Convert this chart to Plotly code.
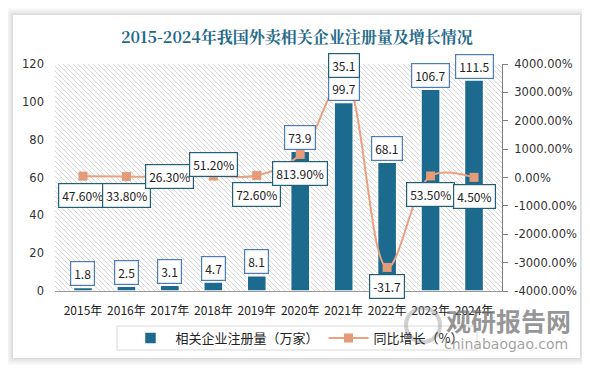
import plotly.graph_objects as go

years = ["2015年", "2016年", "2017年", "2018年", "2019年", "2020年", "2021年", "2022年", "2023年", "2024年"]
registrations = [1.8, 2.5, 3.1, 4.7, 8.1, 73.9, 99.7, 68.1, 106.7, 111.5]
growth_pct = [47.6, 33.8, 26.3, 51.2, 72.6, 813.9, 3510, -3170, 53.5, 4.5]
growth_labels = ["47.60%", "33.80%", "26.30%", "51.20%", "72.60%", "813.90%", "35.1", "-31.7", "53.50%", "4.50%"]
growth_label_pos = ["below", "below", "center", "above", "below", "below", "above", "below", "below", "below"]
left_ticks = [0, 20, 40, 60, 80, 100, 120]
right_ticks = [-4000, -3000, -2000, -1000, 0, 1000, 2000, 3000, 4000]

BAR = "#1C6A8E"
LINE = "#EBA080"
FONT = "Noto Sans CJK SC"

# page body has an 8px margin: build figure 8px smaller, work in reference pixel coords
OFF = 8
FW, FH = 590 - OFF, 370 - OFF
L, R, T, B = 55 - OFF, 88, 64 - OFF, 79
pw, ph = FW - L - R, FH - T - B


def px2paper(x, y):
    return (x - OFF - L) / pw, (FH - B - (y - OFF)) / ph


fig = go.Figure()
fig.add_trace(go.Bar(
    x=years, y=registrations, name="相关企业注册量（万家）",
    marker=dict(color=BAR, line=dict(color="white", width=1.5)),
    width=0.44, yaxis="y",
))
fig.add_trace(go.Scatter(
    x=years, y=growth_pct, name="同比增长（%）", yaxis="y2",
    mode="lines+markers",
    line=dict(color=LINE, width=2, shape="spline", smoothing=1),
    marker=dict(symbol="square", size=9, color="#E59A78"),
))

annotations = []
for x, v in zip(years, registrations):
    annotations.append(dict(
        x=x, y=v, xref="x", yref="y", text=str(v), showarrow=False,
        yshift=14, font=dict(family=FONT, size=12, color="#222"),
        bgcolor="white", bordercolor="#4A7EBB", borderwidth=1.2, borderpad=3,
    ))
shift = {"below": -19, "above": 12, "center": 0}
for x, v, t, p in zip(years, growth_pct, growth_labels, growth_label_pos):
    annotations.append(dict(
        x=x, y=v, xref="x", yref="y2", text=t, showarrow=False,
        yshift=shift[p], font=dict(family=FONT, size=12, color="#222"),
        bgcolor="white", bordercolor="#1F5F7A", borderwidth=1.2, borderpad=3,
    ))


def paper_text(xpx, ypx, text, font):
    xp, yp = px2paper(xpx, ypx)
    annotations.append(dict(x=xp, y=yp, xref="paper", yref="paper", text=text, showarrow=False,
                            xanchor="center", yanchor="middle", font=font))


paper_text(297, 37, "<b>2015-2024年我国外卖相关企业注册量及增长情况</b>",
           dict(family="Noto Serif CJK SC, Noto Sans CJK SC", size=16, color="#1F6A8C"))
paper_text(508, 320, "<b>观研报告网</b>", dict(family=FONT, size=25, color="rgba(115,115,115,0.75)"))
paper_text(506, 344, "chinabaogao.com", dict(family="DejaVu Sans", size=14, color="rgba(130,130,130,0.75)"))

shapes = []
# hatch background as clipped diagonal lines inside plot area
for k in range(-ph, pw + 1, 5):
    xa, ya = k, 0
    xb, yb = k + ph, ph
    if xa < 0:
        ya, xa = -xa, 0
    if xb > pw:
        yb, xb = ph - (xb - pw), pw
    if ya >= yb:
        continue
    shapes.append(dict(type="line", xref="paper", yref="paper",
                       x0=xa / pw, y0=1 - ya / ph, x1=xb / pw, y1=1 - yb / ph,
                       line=dict(color="#d8d8d8", width=1), layer="below"))
# card shadow
x0, y0, x1, y1 = 13, 15, 580, 358
greys = ["#dcdcdc", "#e3e3e3", "#e9e9e9", "#eeeeee", "#f2f2f2", "#f6f6f6", "#fafafa"]
for i, g in enumerate(greys):
    a0 = px2paper(x0 - i - 0.5, y1 + i + 0.5)
    a1 = px2paper(x1 + i + 0.5, y0 - i - 0.5)
    shapes.append(dict(type="rect", xref="paper", yref="paper", x0=a0[0], y0=a0[1], x1=a1[0], y1=a1[1],
                       line=dict(color=g, width=1), fillcolor="rgba(0,0,0,0)", layer="below"))
# legend box
lb0 = px2paper(117, 350)
lb1 = px2paper(477, 326)
shapes.append(dict(type="rect", xref="paper", yref="paper", x0=lb0[0], y0=lb0[1], x1=lb1[0], y1=lb1[1],
                   line=dict(color="#d9d9d9", width=1), fillcolor="rgba(0,0,0,0)"))
# watermark logo circle
c0 = px2paper(406, 342)
c1 = px2paper(440, 308)
shapes.append(dict(type="circle", xref="paper", yref="paper", x0=c0[0], y0=c0[1], x1=c1[0], y1=c1[1],
                   line=dict(color="rgba(150,150,150,0.45)", width=4), fillcolor="rgba(0,0,0,0)"))

lx, ly = px2paper(297, 338)
fig.update_layout(
    width=FW, height=FH,
    margin=dict(l=L, r=R, t=T, b=B, pad=0),
    paper_bgcolor="white", plot_bgcolor="rgba(0,0,0,0)",
    font=dict(family=FONT, size=12, color="#333"),
    showlegend=True,
    legend=dict(orientation="h", x=lx, xanchor="center", y=ly, yanchor="middle",
                font=dict(family=FONT, size=13, color="#222"), bgcolor="rgba(0,0,0,0)",
                itemwidth=40, tracegroupgap=0),
    xaxis=dict(type="category", showgrid=False, showline=True, linecolor="#9a9a9a", linewidth=1,
               ticks="", ticklabelstandoff=9, tickfont=dict(family=FONT, size=12, color="#222")),
    yaxis=dict(range=[0, 120], tickvals=left_ticks, showgrid=False, zeroline=False, showline=False,
               ticks="", ticklabelstandoff=10, tickfont=dict(family="DejaVu Sans", size=11.5, color="#333")),
    yaxis2=dict(range=[-4000, 4000], tickvals=right_ticks, ticktext=[f"{v:.2f}%" for v in right_ticks],
                overlaying="y", side="right", showgrid=False, zeroline=False, showline=True,
                linecolor="#7f7f7f", linewidth=1, ticks="outside", ticklen=5, tickcolor="#7f7f7f",
                ticklabelstandoff=4, tickfont=dict(family="DejaVu Sans", size=11.5, color="#333")),
    annotations=annotations,
    shapes=shapes,
)

fig.write_html("out.html")
